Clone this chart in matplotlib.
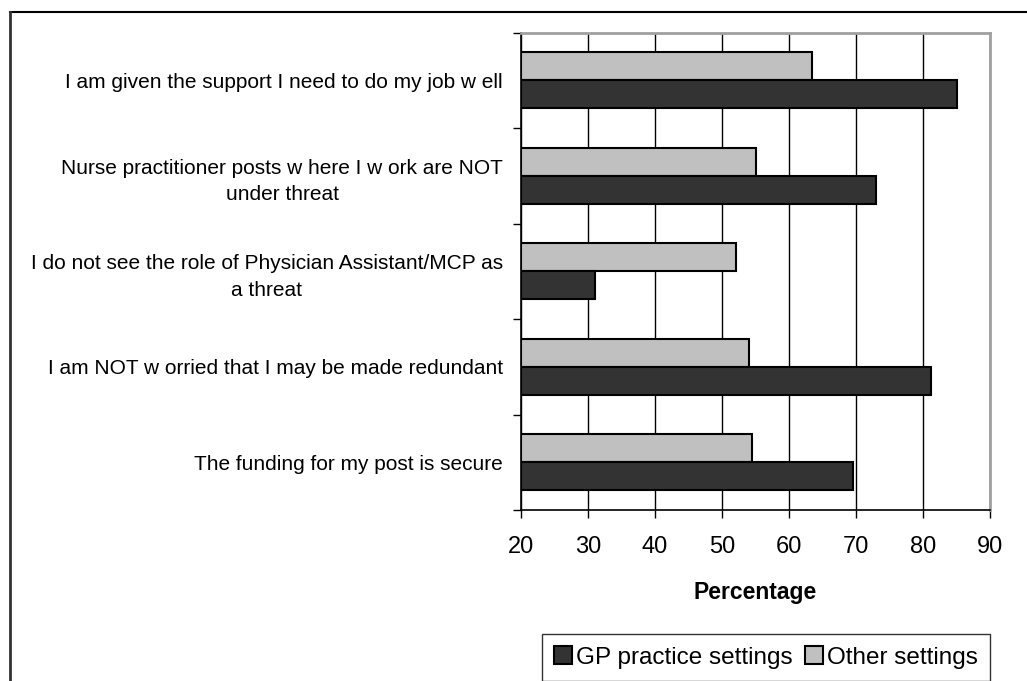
import numpy as np
import matplotlib
matplotlib.use('Agg')
import matplotlib.pyplot as plt
from matplotlib.lines import Line2D
from matplotlib.ticker import FixedLocator

plt.rcParams['font.family'] = ['Liberation Sans', 'DejaVu Sans']

categories = ['I am given the support I need to do my job w ell',
              'Nurse practitioner posts w here I w ork are NOT\nunder threat',
              'I do not see the role of Physician Assistant/MCP as\na threat',
              'I am NOT w orried that I may be made redundant',
              'The funding for my post is secure']
gp_values = [85.0, 73.0, 31.0, 81.2, 69.5]
other_values = [63.5, 55.1, 52.1, 54.0, 54.5]
series_names = ['GP practice settings', 'Other settings']
xticks = [20, 30, 40, 50, 60, 70, 80, 90]

dark = '#333333'
light = '#c0c0c0'

fig = plt.figure(figsize=(10.27, 6.81), dpi=100)
ax = fig.add_axes([521/1027, 1-510/681, 469/1027, (510-32.7)/681])

y = np.arange(len(categories))
h = 0.293
base = xticks[0]
b_other = ax.barh(y - h/2, np.array(other_values) - base, left=base, height=h,
                  color=light, edgecolor='black', linewidth=1.5, zorder=3)
b_gp = ax.barh(y + h/2, np.array(gp_values) - base, left=base, height=h,
               color=dark, edgecolor='black', linewidth=1.5, zorder=3)

ax.set_xlim(xticks[0], xticks[-1])
ax.set_ylim(len(categories) - 0.5, -0.5)
ax.set_xticks(xticks)
ax.set_xticklabels([str(t) for t in xticks], fontsize=17)
ax.tick_params(axis='x', direction='out', length=6, width=1, pad=13)
ax.xaxis.grid(True, color='black', linewidth=1, zorder=0)

ax.set_yticks(y)
ax.set_yticklabels(categories, fontsize=15)
for lab in ax.get_yticklabels():
    lab.set_multialignment('center')
    lab.set_linespacing(1.5)
ax.tick_params(axis='y', which='major', length=0, pad=13)
ax.yaxis.set_minor_locator(FixedLocator(np.arange(-0.5, len(categories), 1.0)))
ax.tick_params(axis='y', which='minor', direction='out', length=6, width=1)

ax.set_xlabel('Percentage', fontsize=16.5, fontweight='bold', labelpad=16)

for s in ['left', 'bottom']:
    ax.spines[s].set_color('black')
    ax.spines[s].set_linewidth(1.2)
for s in ['top', 'right']:
    ax.spines[s].set_color('#a0a0a0')
    ax.spines[s].set_linewidth(2)

leg = fig.legend([b_gp, b_other], series_names, ncol=2, loc='upper left',
                 bbox_to_anchor=(542/1027, 1-634/681), fontsize=17.5,
                 frameon=True, fancybox=False, edgecolor='black',
                 handlelength=0.75, handleheight=0.75, handletextpad=0.15,
                 columnspacing=0.5, borderpad=0.5, borderaxespad=0)
leg.get_frame().set_linewidth(1)

# outer chart frame (only top and left edges fall inside the picture)
fig.add_artist(Line2D([10/1027, 1.0], [1-12/681, 1-12/681], transform=fig.transFigure,
                      color='black', linewidth=1.5))
fig.add_artist(Line2D([10/1027, 10/1027], [1-12/681, 0.0], transform=fig.transFigure,
                      color='#333333', linewidth=2))

fig.savefig('out.png', dpi=100)
